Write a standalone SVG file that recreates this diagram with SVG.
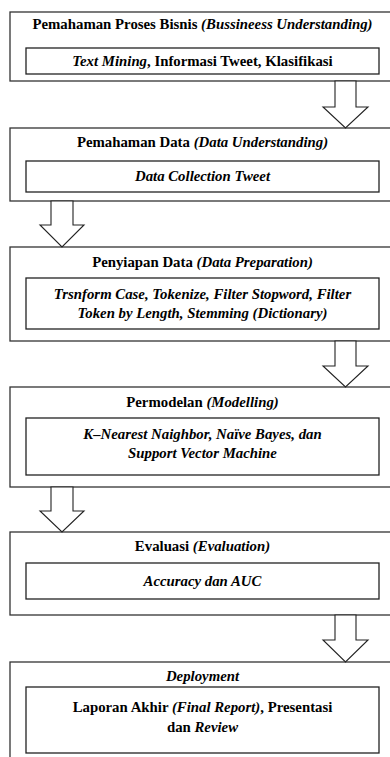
<svg xmlns="http://www.w3.org/2000/svg" width="390" height="757" viewBox="0 0 390 757">
<style>
.outer{fill:#fff;stroke:#333;stroke-width:1.3}
.inner{fill:#fff;stroke:#222;stroke-width:1.3}
.arr{fill:#fff;stroke:#222;stroke-width:1.1;stroke-linejoin:miter}
text{font-family:"Liberation Serif","Times New Roman","DejaVu Serif",serif;font-size:14.8px;font-weight:bold;fill:#000;text-anchor:middle}
.i{font-style:italic}
</style>
<rect width="390" height="757" fill="#fff"/>
<g id="n1">
<rect class="outer" x="10" y="12" width="390" height="69"/>
<text x="202.5" y="29">Pemahaman Proses Bisnis <tspan class="i">(Bussineess Understanding)</tspan></text>
<rect class="inner" x="26" y="48" width="353" height="26"/>
<text x="202.5" y="66"><tspan class="i">Text Mining</tspan>, Informasi Tweet, Klasifikasi</text>
</g>
<g id="n2">
<rect class="outer" x="10" y="128" width="390" height="73"/>
<text x="202.5" y="147">Pemahaman Data <tspan class="i">(Data Understanding)</tspan></text>
<rect class="inner" x="26" y="161" width="353" height="31"/>
<text class="i" x="202.5" y="180.5">Data Collection Tweet</text>
</g>
<g id="n3">
<rect class="outer" x="10" y="247" width="390" height="94"/>
<text x="202.5" y="267">Penyiapan Data  <tspan class="i">(Data Preparation)</tspan></text>
<rect class="inner" x="26" y="278" width="353" height="51"/>
<text class="i" x="202.5" y="299">Trsnform Case, Tokenize, Filter Stopword, Filter</text>
<text class="i" x="202.5" y="317.5">Token by Length, Stemming (Dictionary)</text>
</g>
<g id="n4">
<rect class="outer" x="10" y="387" width="390" height="100"/>
<text x="202.5" y="406.5">Permodelan <tspan class="i">(Modelling)</tspan></text>
<rect class="inner" x="26" y="418" width="353" height="57"/>
<text class="i" x="202.5" y="438.5">K–Nearest Naighbor, Naïve Bayes, dan</text>
<text class="i" x="202.5" y="457.5">Support Vector Machine</text>
</g>
<g id="n5">
<rect class="outer" x="10" y="532" width="390" height="83"/>
<text x="202.5" y="551">Evaluasi  <tspan class="i">(Evaluation)</tspan></text>
<rect class="inner" x="26" y="563" width="353" height="36"/>
<text class="i" x="202.5" y="585.5">Accuracy dan AUC</text>
</g>
<g id="n6">
<rect class="outer" x="10" y="662" width="390" height="110"/>
<text class="i" x="202.5" y="680.5">Deployment</text>
<rect class="inner" x="26" y="687" width="353" height="66"/>
<text x="202.5" y="712">Laporan Akhir <tspan class="i">(Final Report)</tspan>, Presentasi</text>
<text x="202.5" y="732">dan <tspan class="i">Review</tspan></text>
</g>
<g id="connectors">
<polygon class="arr" points="335,81 356,81 356,107 368,107 345.5,128 323,107 335,107"/>
<polygon class="arr" points="51,201 73,201 73,225 84,225 62,247 40,225 51,225"/>
<polygon class="arr" points="335,341 356,341 356,366 368,366 345.5,387 323,366 335,366"/>
<polygon class="arr" points="51,487 73,487 73,511 84,511 62,532 40,511 51,511"/>
<polygon class="arr" points="335,615 356,615 356,640 368,640 345.5,662 323,640 335,640"/>
</g>
</svg>
